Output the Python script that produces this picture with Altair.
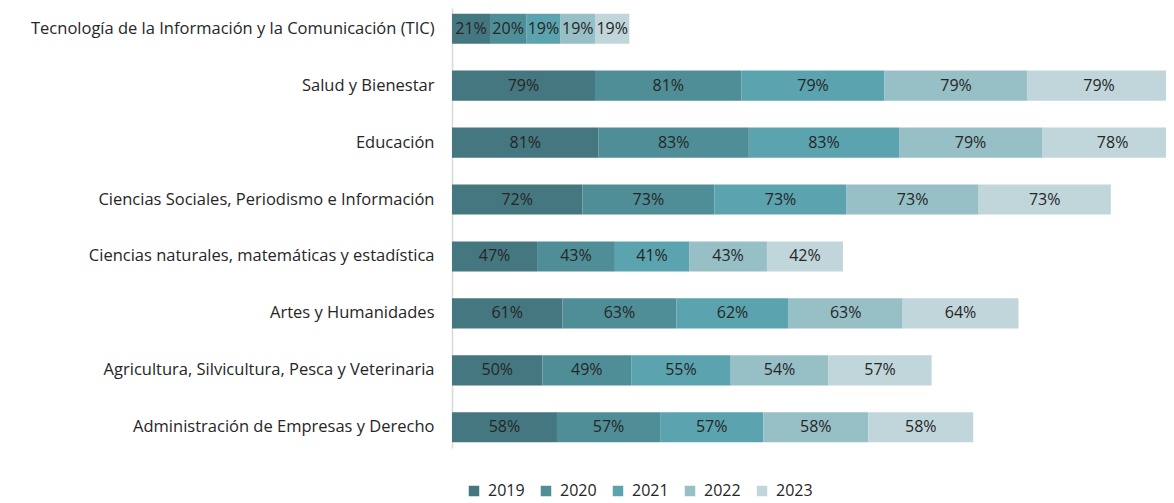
import altair as alt
import pandas as pd

categories = [
    "Tecnología de la Información y la Comunicación (TIC)",
    "Salud y Bienestar",
    "Educación",
    "Ciencias Sociales, Periodismo e Información",
    "Ciencias naturales, matemáticas y estadística",
    "Artes y Humanidades",
    "Agricultura, Silvicultura, Pesca y Veterinaria",
    "Administración de Empresas y Derecho",
]
years = ["2019", "2020", "2021", "2022", "2023"]
v2019 = [21, 79, 81, 72, 47, 61, 50, 58]
v2020 = [20, 81, 83, 73, 43, 63, 49, 57]
v2021 = [19, 79, 83, 73, 41, 62, 55, 57]
v2022 = [19, 79, 79, 73, 43, 63, 54, 58]
v2023 = [19, 79, 78, 73, 42, 64, 57, 58]
colors = ["#44777F", "#4F8E97", "#5BA3AE", "#97BFC6", "#C0D6DB"]

series = [v2019, v2020, v2021, v2022, v2023]
rows = []
for yi, (yr, vals) in enumerate(zip(years, series)):
    for c, v in zip(categories, vals):
        rows.append({"cat": c, "year": yr, "ord": yi, "val": v, "lab": f"{v}%"})
df = pd.DataFrame(rows)

FONT = "Open Sans"
x_scale = alt.Scale(domain=[0, 394.5], nice=False, zero=True)

base = alt.Chart(df).encode(
    y=alt.Y("cat:N", sort=categories, title=None,
            scale=alt.Scale(paddingInner=0.47, paddingOuter=0.1),
            axis=alt.Axis(domainColor="#D9D9D9", domainWidth=1.5, ticks=False,
                          labelFont=FONT, labelFontSize=16.5, labelColor="#262626",
                          labelPadding=18, labelLimit=500)),
)

bars = base.mark_bar(clip=True).encode(
    x=alt.X("sum(val):Q", stack="zero", scale=x_scale, axis=None),
    color=alt.Color("year:N", scale=alt.Scale(domain=years, range=colors),
                    legend=alt.Legend(title=None, orient="none", legendX=14, legendY=475,
                                      direction="horizontal", symbolType="square",
                                      symbolSize=110, symbolStrokeWidth=0,
                                      labelFont=FONT, labelFontSize=16,
                                      labelColor="#262626", columnPadding=13,
                                      labelOffset=6)),
    order=alt.Order("ord:Q", sort="ascending"),
)

labels = base.transform_stack(
    stack="val", groupby=["cat"], as_=["x0", "x1"], sort=[alt.SortField("ord", order="ascending")]
).transform_calculate(
    xm="(datum.x0 + datum.x1) / 2"
).mark_text(font=FONT, fontSize=16, color="#262626").encode(
    x=alt.X("xm:Q", scale=x_scale, axis=None),
    text="lab:N",
)

chart = alt.layer(bars, labels).properties(
    width=714, height=440,
    autosize=alt.AutoSizeParams(type="none"),
    padding={"left": 444, "top": 0, "right": 0, "bottom": 54},
).configure_view(stroke=None)

chart.save("out.html", embed_options={"renderer": "svg", "actions": False})
